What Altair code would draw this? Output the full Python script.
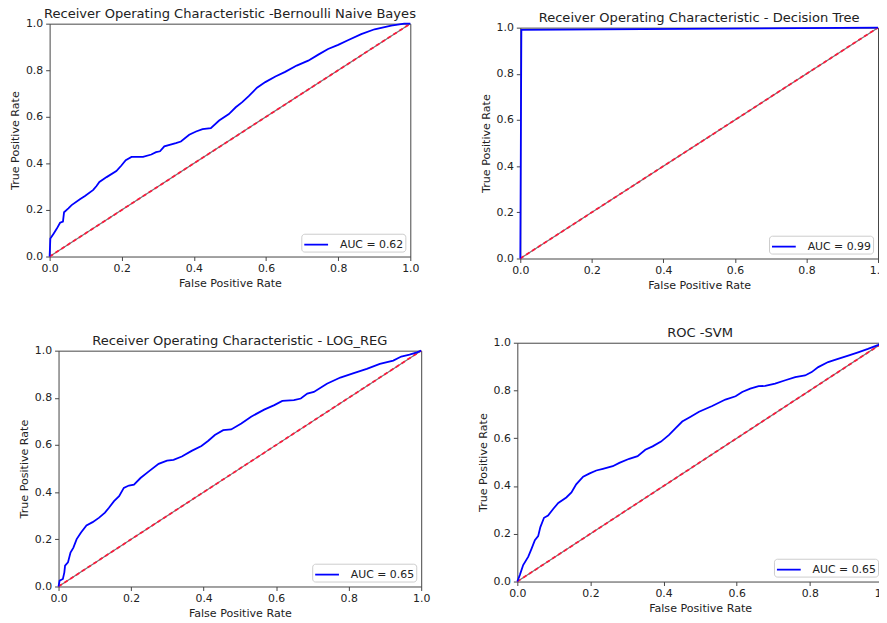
import altair as alt
import pandas as pd

# ---------------- data ----------------
nb_fpr = [0.0, 0.002, 0.011, 0.02, 0.029, 0.037, 0.04, 0.052, 0.061, 0.084, 0.098, 0.121, 0.13, 0.138,
          0.158, 0.185, 0.199, 0.211, 0.227, 0.259, 0.282, 0.295, 0.306, 0.318, 0.35, 0.364, 0.387,
          0.406, 0.424, 0.447, 0.47, 0.497, 0.516, 0.534, 0.552, 0.575, 0.598, 0.626, 0.653, 0.685,
          0.717, 0.745, 0.772, 0.8, 0.827, 0.864, 0.901, 0.947, 0.983, 1.0]
nb_tpr = [0.0, 0.077, 0.098, 0.12, 0.145, 0.15, 0.19, 0.207, 0.221, 0.246, 0.26, 0.286, 0.303, 0.32,
          0.341, 0.367, 0.391, 0.414, 0.428, 0.428, 0.438, 0.448, 0.452, 0.473, 0.487, 0.494, 0.523,
          0.537, 0.547, 0.551, 0.584, 0.612, 0.641, 0.663, 0.689, 0.725, 0.749, 0.773, 0.793, 0.82,
          0.841, 0.867, 0.891, 0.909, 0.929, 0.955, 0.976, 0.992, 1.0, 1.0]

dt_fpr = [0.0, 0.003, 1.0]
dt_tpr = [0.0, 0.99, 1.0]

lr_fpr = [0.0, 0.003, 0.012, 0.016, 0.018, 0.026, 0.033, 0.041, 0.05, 0.062, 0.077, 0.094, 0.112,
          0.128, 0.139, 0.153, 0.167, 0.18, 0.194, 0.208, 0.226, 0.249, 0.276, 0.299, 0.317, 0.34,
          0.367, 0.394, 0.413, 0.431, 0.454, 0.476, 0.504, 0.531, 0.567, 0.595, 0.617, 0.649, 0.668,
          0.686, 0.704, 0.74, 0.777, 0.814, 0.85, 0.886, 0.923, 0.945, 0.968, 0.988, 1.0]
lr_tpr = [0.0, 0.025, 0.032, 0.06, 0.088, 0.102, 0.144, 0.165, 0.201, 0.229, 0.259, 0.273, 0.292,
          0.313, 0.334, 0.362, 0.383, 0.418, 0.428, 0.432, 0.46, 0.488, 0.52, 0.534, 0.537, 0.551,
          0.575, 0.596, 0.618, 0.642, 0.663, 0.666, 0.691, 0.72, 0.75, 0.769, 0.787, 0.79, 0.797,
          0.818, 0.825, 0.86, 0.886, 0.905, 0.923, 0.944, 0.958, 0.975, 0.983, 0.993, 1.0]

svm_fpr = [0.0, 0.007, 0.016, 0.03, 0.039, 0.048, 0.057, 0.063, 0.073, 0.084, 0.098, 0.112, 0.134,
           0.148, 0.161, 0.18, 0.198, 0.216, 0.234, 0.261, 0.279, 0.306, 0.329, 0.35, 0.37, 0.393,
           0.415, 0.433, 0.451, 0.474, 0.497, 0.533, 0.569, 0.597, 0.615, 0.637, 0.66, 0.678, 0.705,
           0.733, 0.76, 0.787, 0.805, 0.823, 0.85, 0.877, 0.905, 0.932, 0.959, 0.986, 1.0]
svm_tpr = [0.0, 0.028, 0.069, 0.104, 0.138, 0.173, 0.19, 0.228, 0.267, 0.276, 0.304, 0.329, 0.352,
           0.373, 0.407, 0.439, 0.453, 0.465, 0.472, 0.483, 0.497, 0.514, 0.525, 0.552, 0.566, 0.586,
           0.614, 0.642, 0.67, 0.69, 0.711, 0.735, 0.762, 0.776, 0.794, 0.808, 0.818, 0.819, 0.829,
           0.843, 0.856, 0.863, 0.877, 0.898, 0.919, 0.932, 0.946, 0.96, 0.974, 0.99, 1.0]

diag_x = [0.0, 1.0]
diag_y = [0.0, 1.0]

titles = ["Receiver Operating Characteristic -Bernoulli Naive Bayes",
          "Receiver Operating Characteristic - Decision Tree",
          "Receiver Operating Characteristic - LOG_REG",
          "ROC -SVM"]
auc_labels = ["AUC = 0.62", "AUC = 0.99", "AUC = 0.65", "AUC = 0.65"]
tick_values = [0.0, 0.2, 0.4, 0.6, 0.8, 1.0]

FONT = "DejaVu Sans"
TXT = "#222222"
ONE = pd.DataFrame({"a": [0]})


def spacer():
    return alt.Chart(ONE).mark_rule(opacity=0, strokeOpacity=0).encode(
        x=alt.value(0), x2=alt.value(0), y=alt.value(0), y2=alt.value(0)
    ).properties(width=1, height=1, view=alt.ViewBackground(stroke="transparent"))


def panel(fpr, tpr, title, auc, w, h, left, top, right, bottom):
    xs = alt.Scale(domain=[0, 1], nice=False, zero=False)
    ys = alt.Scale(domain=[0, 1], nice=False, zero=False)
    xax = alt.Axis(values=tick_values, format=".1f", title="False Positive Rate")
    yax = alt.Axis(values=tick_values, format=".1f", title="True Positive Rate")

    # invisible rule that fixes the panel's layout box
    anchor = alt.Chart(ONE).mark_rule(opacity=0, strokeOpacity=0).encode(
        x=alt.value(-left), x2=alt.value(w + right), y=alt.value(-top), y2=alt.value(h + bottom))

    head = alt.Chart(pd.DataFrame({"t": [title]})).mark_text(
        font=FONT, fontSize=13.2, color=TXT, align="center", baseline="alphabetic").encode(
        x=alt.value(w / 2), y=alt.value(-6), text="t:N")

    ddf = pd.DataFrame({"x": diag_x, "y": diag_y})
    dgray = alt.Chart(ddf).mark_line(color="#707070", strokeWidth=1.2).encode(
        x=alt.X("x:Q", scale=xs, axis=xax), y=alt.Y("y:Q", scale=ys, axis=yax))
    dred = alt.Chart(ddf).mark_line(color="#ff1a3c", strokeWidth=1.8, strokeDash=[4, 3]).encode(
        x=alt.X("x:Q", scale=xs, axis=xax), y=alt.Y("y:Q", scale=ys, axis=yax))

    cdf = pd.DataFrame({"fpr": fpr, "tpr": tpr, "lab": [auc] * len(fpr), "o": list(range(len(fpr)))})
    curve = alt.Chart(cdf).mark_line(strokeWidth=1.8).encode(
        x=alt.X("fpr:Q", scale=xs, axis=xax),
        y=alt.Y("tpr:Q", scale=ys, axis=yax),
        order="o:Q",
        color=alt.Color("lab:N", scale=alt.Scale(range=["#0000ff"]),
                        legend=alt.Legend(orient="bottom-right", offset=5, title=None, padding=2,
                                          fillColor="white", strokeColor="#cccccc", cornerRadius=3,
                                          labelFontSize=11, labelFont=FONT, labelColor=TXT,
                                          symbolType="M-1.5,0H1.5", symbolSize=256,
                                          symbolStrokeWidth=1.8, symbolOffset=4, labelOffset=15)))
    return alt.layer(anchor, head, dgray, dred, curve).properties(width=w, height=h)


# layout boxes: width, height, then extents left / top / right / bottom of the plot area
p1 = panel(nb_fpr, nb_tpr, titles[0], auc_labels[0], 364, 235, 44, 19, 49, 49)
p2 = panel(dt_fpr, dt_tpr, titles[1], auc_labels[1], 361, 233, 65, 23, 0, 47)
p3 = panel(lr_fpr, lr_tpr, titles[2], auc_labels[2], 366, 238, 53, 53, 20, 0)
p4 = panel(svm_fpr, svm_tpr, titles[3], auc_labels[3], 369, 241, 53, 41, 0, 0)

chart = alt.concat(spacer(), spacer(), spacer(),
                   spacer(), p1, p2,
                   spacer(), p3, p4,
                   columns=3, align="none",
                   spacing={"row": -9, "column": -5}).resolve_scale(
    color="independent").resolve_legend(color="independent").properties(
    autosize=alt.AutoSizeParams(type="none"),
    padding={"left": 0, "top": 0, "right": 879, "bottom": 612}
).configure_view(stroke="#444444", strokeWidth=1).configure_axis(
    labelFont=FONT, labelFontSize=11, labelColor=TXT, titleFont=FONT, titleFontSize=11.2,
    titleFontWeight="normal", titleColor=TXT, tickSize=4, tickColor="#444444", domain=False,
    grid=False, labelFlush=False
).configure_axisX(labelPadding=2, titlePadding=4).configure_axisY(labelPadding=3, titlePadding=5)

chart.save("out.html", embed_options={"renderer": "svg", "actions": False})
